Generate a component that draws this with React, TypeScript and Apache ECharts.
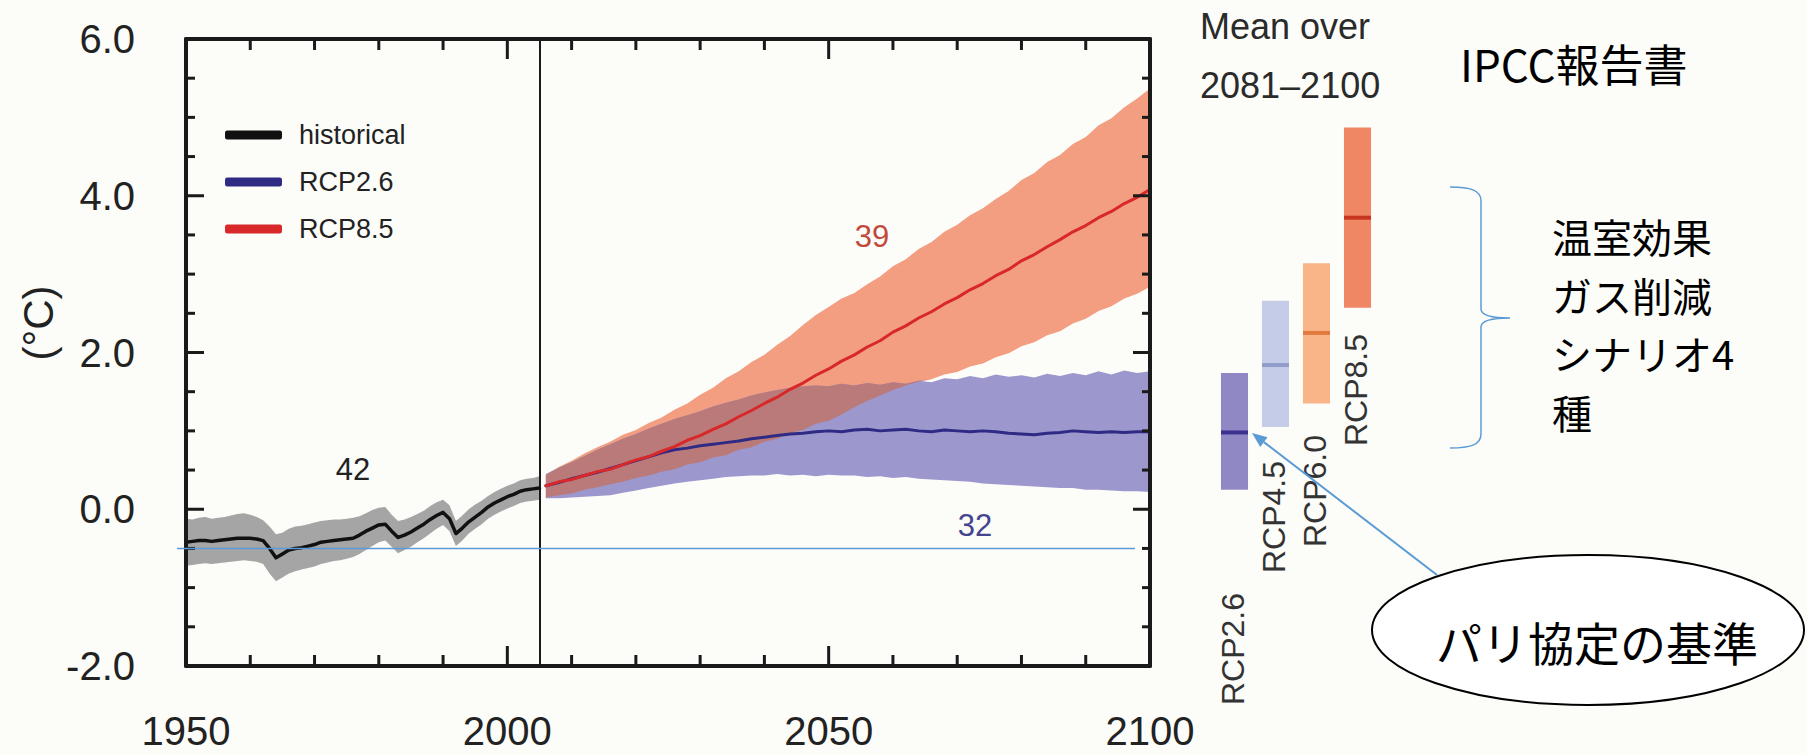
import React, { useEffect, useRef } from "react";
import * as echarts from "echarts";

// Global mean surface temperature change relative to 1986–2005 (°C)
const histStartYear = 1950;
const histMean = [
  -0.42, -0.41, -0.40, -0.40, -0.41, -0.40, -0.39, -0.38, -0.37, -0.37,
  -0.37, -0.38, -0.40, -0.50, -0.62, -0.57, -0.52, -0.50, -0.49, -0.47,
  -0.45, -0.42, -0.41, -0.40, -0.39, -0.38, -0.37, -0.33, -0.28, -0.24,
  -0.20, -0.19, -0.28, -0.36, -0.33, -0.29, -0.24, -0.19, -0.13, -0.08,
  -0.04, -0.12, -0.31, -0.24, -0.16, -0.10, -0.04, 0.03, 0.08, 0.12,
  0.16, 0.19, 0.23, 0.25, 0.26, 0.27,
];
const histLow = [
  -0.72, -0.71, -0.70, -0.69, -0.70, -0.69, -0.68, -0.67, -0.66, -0.65,
  -0.66, -0.67, -0.70, -0.82, -0.92, -0.87, -0.82, -0.79, -0.77, -0.75,
  -0.73, -0.70, -0.68, -0.66, -0.65, -0.63, -0.61, -0.57, -0.52, -0.47,
  -0.42, -0.40, -0.48, -0.56, -0.52, -0.48, -0.42, -0.37, -0.31, -0.25,
  -0.20, -0.28, -0.47, -0.40, -0.31, -0.25, -0.19, -0.12, -0.07, -0.03,
  0.01, 0.04, 0.08, 0.10, 0.11, 0.12,
];
const histHigh = [
  -0.12, -0.13, -0.11, -0.10, -0.12, -0.11, -0.10, -0.08, -0.06, -0.05,
  -0.07, -0.10, -0.14, -0.22, -0.32, -0.30, -0.25, -0.22, -0.21, -0.19,
  -0.17, -0.15, -0.14, -0.13, -0.13, -0.12, -0.11, -0.09, -0.05, -0.01,
  0.02, 0.03, -0.07, -0.15, -0.13, -0.10, -0.06, -0.02, 0.04, 0.09,
  0.12, 0.05, -0.15, -0.08, 0.00, 0.06, 0.11, 0.17, 0.22, 0.26,
  0.30, 0.33, 0.37, 0.39, 0.40, 0.42,
];

// Projections, every second year from 2006 to 2100
const projStartYear = 2006;
const projStep = 2;
const rcp26Mean = [
  0.30, 0.34, 0.39, 0.43, 0.47, 0.52, 0.57, 0.62, 0.67, 0.72,
  0.76, 0.78, 0.81, 0.83, 0.85, 0.87, 0.90, 0.92, 0.94, 0.96,
  0.97, 0.99, 1.00, 0.99, 1.01, 1.02, 1.00, 1.01, 1.02, 1.00,
  0.99, 1.01, 1.00, 0.99, 1.00, 0.99, 0.97, 0.96, 0.95, 0.97,
  0.98, 1.00, 0.99, 0.98, 0.99, 0.98, 0.99, 0.99,
];
const rcp26Low = [
  0.14, 0.14, 0.15, 0.16, 0.17, 0.18, 0.21, 0.24, 0.27, 0.30,
  0.33, 0.35, 0.37, 0.39, 0.41, 0.42, 0.43, 0.43, 0.45, 0.43,
  0.44, 0.42, 0.44, 0.43, 0.43, 0.41, 0.42, 0.40, 0.41, 0.39,
  0.38, 0.37, 0.36, 0.35, 0.33, 0.32, 0.31, 0.30, 0.29, 0.28,
  0.27, 0.27, 0.25, 0.25, 0.24, 0.23, 0.23, 0.22,
];
const rcp26High = [
  0.45, 0.53, 0.60, 0.68, 0.76, 0.83, 0.90, 0.96, 1.03, 1.09,
  1.15, 1.20, 1.25, 1.31, 1.36, 1.40, 1.45, 1.49, 1.52, 1.55,
  1.57, 1.58, 1.57, 1.60, 1.58, 1.61, 1.59, 1.62, 1.60, 1.64,
  1.62, 1.67, 1.66, 1.70, 1.67, 1.72, 1.69, 1.71, 1.68, 1.73,
  1.70, 1.74, 1.71, 1.76, 1.72, 1.77, 1.74, 1.76,
];
const rcp85Mean = [
  0.30, 0.35, 0.38, 0.43, 0.48, 0.51, 0.57, 0.63, 0.67, 0.74,
  0.80, 0.88, 0.94, 1.02, 1.09, 1.18, 1.26, 1.35, 1.43, 1.53,
  1.61, 1.71, 1.79, 1.89, 1.97, 2.07, 2.15, 2.26, 2.34, 2.44,
  2.52, 2.62, 2.70, 2.80, 2.88, 2.98, 3.06, 3.17, 3.25, 3.35,
  3.44, 3.54, 3.62, 3.72, 3.80, 3.90, 3.98, 4.08,
];
const rcp85Low = [
  0.15, 0.18, 0.20, 0.25, 0.28, 0.32, 0.35, 0.40, 0.43, 0.48,
  0.51, 0.57, 0.60, 0.66, 0.69, 0.76, 0.79, 0.86, 0.90, 0.97,
  1.01, 1.09, 1.13, 1.21, 1.30, 1.38, 1.45, 1.52, 1.58, 1.63,
  1.66, 1.72, 1.75, 1.82, 1.86, 1.94, 1.99, 2.08, 2.13, 2.22,
  2.27, 2.37, 2.43, 2.53, 2.59, 2.69, 2.75, 2.84,
];
const rcp85High = [
  0.44, 0.54, 0.62, 0.71, 0.79, 0.86, 0.95, 1.01, 1.10, 1.17,
  1.27, 1.35, 1.46, 1.55, 1.67, 1.76, 1.88, 1.97, 2.10, 2.21,
  2.35, 2.48, 2.58, 2.69, 2.76, 2.87, 2.97, 3.10, 3.19, 3.32,
  3.41, 3.54, 3.63, 3.75, 3.84, 3.96, 4.06, 4.20, 4.29, 4.43,
  4.52, 4.66, 4.75, 4.90, 4.99, 5.13, 5.24, 5.37,
];

// Mean over 2081–2100 per scenario
const scenarioNames = ["RCP2.6", "RCP4.5", "RCP6.0", "RCP8.5"];
const scenarioLow = [0.25, 1.05, 1.35, 2.57];
const scenarioHigh = [1.74, 2.66, 3.14, 4.87];
const scenarioMean = [0.98, 1.84, 2.25, 3.72];
const scenarioFill = ["#8f88c4", "#c4cce7", "#f9b487", "#ef8664"];
const scenarioLine = ["#3b318e", "#909dcc", "#e07a3e", "#c7351f"];
// upper end (pixels from the top) of each rotated scenario name
const scenarioLabelTop = [593, 461, 435, 334];

// Model counts written on the panel
const countHist = "42";
const countRcp85 = "39";
const countRcp26 = "32";

// Axis ticks
const xMajorTicks = [1950, 2000, 2050, 2100];
const xMinorTicks = [1960, 1970, 1980, 1990, 2010, 2020, 2030, 2040, 2060, 2070, 2080, 2090];
const yMajorTicks = [-2, 0, 2, 4, 6];
const yMinorTicks = [-1.5, -1, -0.5, 0.5, 1, 1.5, 2.5, 3, 3.5, 4.5, 5, 5.5];

const projectionStart = 2005;
const parisBaseline = -0.5;
const xMin = 1950, xMax = 2100, yMin = -2, yMax = 6;

const SANS = "'Liberation Sans', Arial, Helvetica, sans-serif";
const CJK = "'Noto Sans CJK JP', 'Noto Sans', sans-serif";
const BLUE = "#5b9bd5";
const INK = "#1a1a1a";

const BRACE_PATH =
  "M0,0 C20,0 31,3 31,14 L31,122 C31,128 40,131 60,131 C40,131 31,134 31,140 L31,247 C31,258 20,261 0,261";

const histYears = histMean.map((_, i) => histStartYear + i);
const projYears = rcp26Mean.map((_, i) => projStartYear + i * projStep);

function bandSeries(years: number[], lo: number[], hi: number[], color: string, z: number) {
  return {
    type: "custom",
    xAxisIndex: 0,
    yAxisIndex: 0,
    silent: true,
    z,
    data: years.map((y, i) => [y, lo[i], hi[i]]),
    encode: { x: 0, y: [1, 2] },
    renderItem: (params: any, api: any) => {
      if (params.dataIndex !== 0) return null;
      const upper = years.map((y, i) => api.coord([y, hi[i]]));
      const lower = years.map((y, i) => api.coord([y, lo[i]])).reverse();
      return {
        type: "polygon",
        shape: { points: upper.concat(lower) },
        style: { fill: color, stroke: null },
      };
    },
  };
}

function lineSeries(name: string, years: number[], values: number[], color: string, width: number, z: number, extra: any = {}) {
  return {
    type: "line",
    name,
    xAxisIndex: 0,
    yAxisIndex: 0,
    z,
    data: years.map((y, i) => [y, values[i]]),
    showSymbol: false,
    symbol: "none",
    silent: true,
    itemStyle: { color },
    lineStyle: { color, width, cap: "round", join: "round" },
    ...extra,
  };
}

const axisFrame = {
  z: 30,
  axisLine: { show: true, onZero: false, lineStyle: { color: INK, width: 4 } },
  axisTick: { show: false },
  minorTick: { show: false },
  splitLine: { show: false },
  minorSplitLine: { show: false },
};

export default function App() {
  const ref = useRef<HTMLDivElement>(null);

  useEffect(() => {
    if (!ref.current) return;
    echarts.graphic.registerShape("brace", echarts.graphic.extendPath(BRACE_PATH, {}));
    const chart = echarts.init(ref.current, null, { renderer: "svg" });

    const overlapLow = projYears.map((_, i) => Math.max(rcp26Low[i], rcp85Low[i]));
    const overlapHigh = projYears.map((_, i) =>
      Math.max(overlapLow[i], Math.min(rcp26High[i], rcp85High[i]))
    );

    const option: any = {
      animation: false,
      backgroundColor: "transparent",
      grid: [
        { left: 186, right: 657, top: 39, bottom: 89 },
        { left: 1214, width: 164, top: 39, bottom: 89 },
      ],
      xAxis: [
        {
          type: "value", gridIndex: 0, position: "bottom", min: xMin, max: xMax, interval: 50,
          ...axisFrame,
          axisLabel: {
            margin: 45, fontSize: 40, lineHeight: 40, fontFamily: SANS, color: "#222",
            formatter: (v: number) => String(v),
          },
        },
        {
          type: "value", gridIndex: 0, position: "top", min: xMin, max: xMax, interval: 50,
          ...axisFrame,
          axisLabel: { show: false },
        },
        { type: "category", gridIndex: 1, data: scenarioNames, show: false },
      ],
      yAxis: [
        {
          type: "value", gridIndex: 0, position: "left", min: yMin, max: yMax, interval: 2,
          ...axisFrame,
          axisLabel: {
            margin: 51, fontSize: 40, fontFamily: SANS, color: "#222",
            formatter: (v: number) => v.toFixed(1),
          },
        },
        {
          type: "value", gridIndex: 0, position: "right", min: yMin, max: yMax, interval: 2,
          ...axisFrame,
          axisLabel: { show: false },
        },
        { type: "value", gridIndex: 1, min: yMin, max: yMax, show: false },
      ],
      legend: {
        data: ["historical", "RCP2.6", "RCP8.5"],
        orient: "vertical",
        left: 220,
        top: 114,
        itemWidth: 57,
        itemHeight: 9,
        itemGap: 15,
        icon: "roundRect",
        selectedMode: false,
        textStyle: {
          fontFamily: SANS, fontSize: 27, lineHeight: 32, color: "#222",
          padding: [0, 0, 0, 12],
        },
      },
      series: [
        bandSeries(histYears, histLow, histHigh, "#a5a5a5", 1),
        bandSeries(projYears, rcp85Low, rcp85High, "#f39e80", 2),
        bandSeries(projYears, rcp26Low, rcp26High, "#9c97cd", 3),
        bandSeries(projYears, overlapLow, overlapHigh, "#bb7a7a", 4),
        lineSeries("historical", histYears, histMean, "#111111", 3.5, 6, {
          markLine: {
            silent: true,
            symbol: "none",
            label: { show: false },
            lineStyle: { color: INK, width: 2, type: "solid" },
            data: [{ xAxis: projectionStart }],
          },
        }),
        lineSeries("RCP2.6", projYears, rcp26Mean, "#2f2b84", 3, 7),
        lineSeries("RCP8.5", projYears, rcp85Mean, "#d8282a", 3, 8),
        {
          type: "custom",
          xAxisIndex: 2,
          yAxisIndex: 2,
          silent: true,
          z: 5,
          data: scenarioNames.map((_, i) => [i, scenarioLow[i], scenarioHigh[i], scenarioMean[i]]),
          encode: { x: 0, y: [1, 2, 3] },
          renderItem: (params: any, api: any) => {
            const i = params.dataIndex;
            const top = api.coord([i, api.value(2)]);
            const bot = api.coord([i, api.value(1)]);
            const mid = api.coord([i, api.value(3)]);
            const w = api.size([1, 0])[0] * 0.66;
            return {
              type: "group",
              children: [
                {
                  type: "rect",
                  shape: { x: top[0] - w / 2, y: top[1], width: w, height: bot[1] - top[1] },
                  style: { fill: scenarioFill[i] },
                },
                {
                  type: "rect",
                  shape: { x: top[0] - w / 2, y: mid[1] - 2, width: w, height: 4 },
                  style: { fill: scenarioLine[i] },
                },
                {
                  type: "text",
                  x: top[0] - 2,
                  y: scenarioLabelTop[i],
                  rotation: Math.PI / 2,
                  style: {
                    text: scenarioNames[i],
                    fontFamily: SANS,
                    fontSize: 32,
                    fill: "#333",
                    align: "right",
                    verticalAlign: "middle",
                    textAlign: "right",
                    textVerticalAlign: "middle",
                  },
                },
              ],
            };
          },
        },
      ],
    };

    chart.setOption(option);

    const toPx = (x: number, y: number) =>
      chart.convertToPixel({ xAxisIndex: 0, yAxisIndex: 0 }, [x, y]) as number[];
    const baseY = toPx(projectionStart, parisBaseline)[1];
    const [xl, yb] = toPx(xMin, yMin);
    const [xr, yt] = toPx(xMax, yMax);

    // inward tick marks on all four sides of the frame
    const ticks: any[] = [];
    const seg = (x1: number, y1: number, x2: number, y2: number) =>
      ticks.push({
        type: "line",
        z: 60,
        shape: { x1, y1, x2, y2 },
        style: { stroke: INK, lineWidth: 3 },
      });
    xMajorTicks.forEach((v) => {
      const x = toPx(v, yMin)[0];
      seg(x, yb, x, yb - 20);
      seg(x, yt, x, yt + 20);
    });
    xMinorTicks.forEach((v) => {
      const x = toPx(v, yMin)[0];
      seg(x, yb, x, yb - 11);
      seg(x, yt, x, yt + 11);
    });
    yMajorTicks.forEach((v) => {
      const y = toPx(xMin, v)[1];
      seg(xl, y, xl + 18, y);
      seg(xr, y, xr - 17, y);
    });
    yMinorTicks.forEach((v) => {
      const y = toPx(xMin, v)[1];
      seg(xl, y, xl + 9, y);
      seg(xr, y, xr - 8, y);
    });

    const txt = (text: string, x: number, y: number, size: number, family: string, fill: string, align: string, extra: any = {}, styleExtra: any = {}) => ({
      type: "text",
      x,
      y,
      z: 100,
      ...extra,
      style: {
        text,
        fontSize: size,
        fontFamily: family,
        fill,
        align,
        verticalAlign: "middle",
        textAlign: align,
        textVerticalAlign: "middle",
        ...styleExtra,
      },
    });

    // arrow from the callout to the RCP2.6 mean bar
    const ax1 = 1437, ay1 = 575, ax2 = 1252, ay2 = 433;
    const len = Math.hypot(ax2 - ax1, ay2 - ay1);
    const ux = (ax2 - ax1) / len, uy = (ay2 - ay1) / len;
    const headL = 15, headW = 6;
    const bx = ax2 - ux * headL, by = ay2 - uy * headL;

    chart.setOption({
      graphic: [
        ...ticks,
        txt("(°C)", 38, 323, 42, SANS, "#222", "center", { rotation: Math.PI / 2 }),
        txt(countHist, 353, 469, 31, SANS, "#222", "center"),
        txt(countRcp85, 872, 236, 31, SANS, "#c24a3b", "center"),
        txt(countRcp26, 975, 525, 31, SANS, "#45448e", "center"),
        txt("Mean over", 1200, 26, 36, SANS, "#2a2a2a", "left"),
        txt("2081–2100", 1200, 85, 36, SANS, "#2a2a2a", "left"),
        txt("IPCC報告書", 1460, 63, 44, CJK, "#000", "left"),
        txt("温室効果\nガス削減\nシナリオ4\n種", 1552, 324, 40, CJK, "#000", "left", {}, { lineHeight: 58.5 }),
        {
          type: "line",
          z: 90,
          shape: { x1: 177, y1: baseY, x2: 1135, y2: baseY },
          style: { stroke: BLUE, lineWidth: 1.5 },
        },
        {
          type: "brace",
          x: 1450,
          y: 187,
          z: 90,
          style: { stroke: BLUE, fill: "none", lineWidth: 1.5 },
        },
        {
          type: "ellipse",
          z: 95,
          shape: { cx: 1588, cy: 630, rx: 216, ry: 75 },
          style: { fill: "#ffffff", stroke: "#000", lineWidth: 2 },
        },
        txt("パリ協定の基準", 1597, 641, 46, CJK, "#000", "center"),
        {
          type: "line",
          z: 96,
          shape: { x1: ax1, y1: ay1, x2: bx, y2: by },
          style: { stroke: BLUE, lineWidth: 2 },
        },
        {
          type: "polygon",
          z: 96,
          shape: {
            points: [
              [ax2, ay2],
              [bx - uy * headW, by + ux * headW],
              [bx + uy * headW, by - ux * headW],
            ],
          },
          style: { fill: BLUE },
        },
      ],
    });

    return () => chart.dispose();
  }, []);

  return (
    <div
      ref={ref}
      style={{ position: "fixed", left: 0, top: 0, width: 1807, height: 755, background: "#fcfcf9" }}
    />
  );
}
